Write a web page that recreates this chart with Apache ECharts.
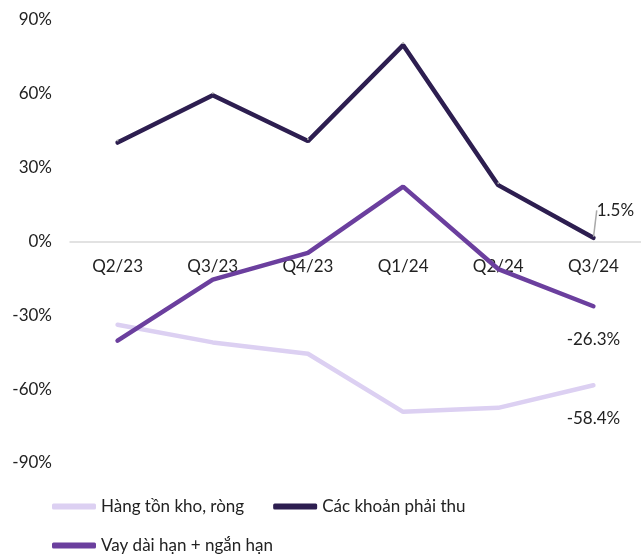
<!DOCTYPE html>
<html><head><meta charset="utf-8">
<script src="https://cdn.jsdelivr.net/npm/echarts@6/dist/echarts.min.js"></script>
<style>html,body{margin:0;padding:0;background:#fff}#c{width:641px;height:554px}</style>
</head><body><div id="c"></div>
<script>
const categories = ['Q2/23','Q3/23','Q4/23','Q1/24','Q2/24','Q3/24'];
const hangTonKho = [-33.8, -41.0, -45.6, -69.2, -67.6, -58.4];
const khoanPhaiThu = [40.2, 59.4, 40.8, 79.8, 22.9, 1.5];
const vayNgan = [-40.3, -15.5, -4.6, 22.3, -11.2, -26.3];
const yTicks = [-90, -60, -30, 0, 30, 60, 90];
const names = ['Hàng tồn kho, ròng', 'Các khoản phải thu', 'Vay dài hạn + ngắn hạn'];
const colors = ['#dcd0f2', '#2d1e50', '#6b3f9e'];
const font = 'Lato, "Noto Sans", sans-serif';
const yMin = -90, yMax = 90, gridTop = 20, gridH = 443;

function lastLabel(pos, extra) {
  return Object.assign({
    show: true,
    position: pos,
    fontSize: 17,
    fontFamily: font,
    color: '#222',
    formatter: p => p.dataIndex === categories.length - 1 ? p.value.toFixed(1) + '%' : ''
  }, extra || {});
}

const chart = echarts.init(document.getElementById('c'));
chart.setOption({
  animation: false,
  grid: { left: 70, top: gridTop, width: 575, height: gridH },
  legend: [
    { data: [names[0], names[1]], left: 47, top: 493, itemWidth: 44, itemHeight: 6, itemGap: 29,
      icon: 'roundRect', textStyle: { fontSize: 17, fontFamily: font, color: '#222' } },
    { data: [names[2]], left: 47, top: 532, itemWidth: 44, itemHeight: 6,
      icon: 'roundRect', textStyle: { fontSize: 17, fontFamily: font, color: '#222' } }
  ],
  xAxis: {
    type: 'category', data: categories, boundaryGap: true,
    offset: -gridH * (0 - yMin) / (yMax - yMin),
    axisLine: { onZero: false, lineStyle: { color: '#d9d9d9', width: 1.5 } },
    axisTick: { show: false },
    axisLabel: { margin: 17, fontSize: 17, fontFamily: font, color: '#222' }
  },
  yAxis: {
    type: 'value', min: yMin, max: yMax, interval: 30,
    splitLine: { show: false },
    axisLine: { show: false }, axisTick: { show: false },
    axisLabel: { margin: 18, fontSize: 17, fontFamily: font, color: '#222',
      formatter: v => yTicks.includes(v) ? v + '%' : '' }
  },
  series: [
    { name: names[0], type: 'line', data: hangTonKho, symbol: 'circle', symbolSize: 2, color: colors[0],
      itemStyle: { color: colors[0] },
      lineStyle: { width: 4.5, color: colors[0], cap: 'round' },
      label: lastLabel('bottom', { distance: 24 }), z: 1 },
    { name: names[1], type: 'line', data: khoanPhaiThu, symbol: 'circle', symbolSize: 2, color: colors[1],
      itemStyle: { color: colors[1] },
      lineStyle: { width: 4.5, color: colors[1], cap: 'round' },
      label: lastLabel('top', { distance: 2, padding: [0, 0, 6, 0] }),
      labelLayout: p => p.dataIndex === categories.length - 1 ? { dx: 22, dy: -10 } : {},
      labelLine: { show: true, lineStyle: { color: '#aaaaaa', width: 1.5 } }, z: 3 },
    { name: names[2], type: 'line', data: vayNgan, symbol: 'circle', symbolSize: 2, color: colors[2],
      itemStyle: { color: colors[2] },
      lineStyle: { width: 4.5, color: colors[2], cap: 'round' },
      label: lastLabel('bottom', { distance: 24 }), z: 2 }
  ]
});
</script></body></html>
